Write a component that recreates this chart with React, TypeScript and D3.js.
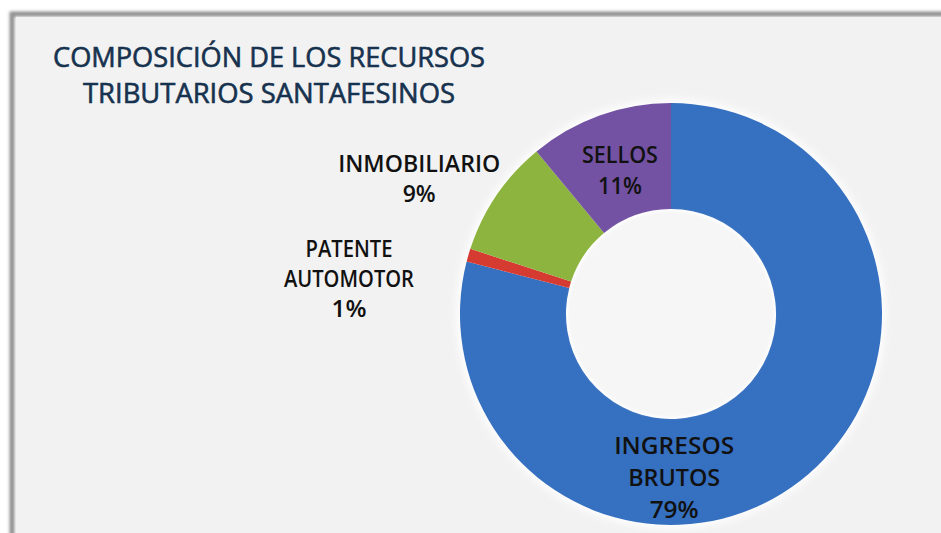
import { useEffect, useRef } from "react";
import * as d3 from "d3";

const categories = ["INGRESOS BRUTOS", "PATENTE AUTOMOTOR", "INMOBILIARIO", "SELLOS"];
const shares = [79, 1, 9, 11];
const pctLabels = ["79%", "1%", "9%", "11%"];
const labelLines = [["INGRESOS", "BRUTOS"], ["PATENTE", "AUTOMOTOR"], ["INMOBILIARIO"], ["SELLOS"]];
const titleLines = ["COMPOSICIÓN DE LOS RECURSOS", "TRIBUTARIOS SANTAFESINOS"];

const colors = ["#3670c0", "#d63b32", "#8db43e", "#7351a3"];

const W = 941,
  H = 533;

const App = () => {
  const ref = useRef<SVGSVGElement>(null);

  useEffect(() => {
    const svg = d3.select(ref.current);
    svg.selectAll("*").remove();

    const defs = svg.append("defs");
    defs
      .append("filter")
      .attr("id", "soft")
      .attr("x", "-20%")
      .attr("y", "-20%")
      .attr("width", "140%")
      .attr("height", "140%")
      .append("feGaussianBlur")
      .attr("stdDeviation", 1.5);
    defs
      .append("filter")
      .attr("id", "glow")
      .attr("x", "-20%")
      .attr("y", "-20%")
      .attr("width", "140%")
      .attr("height", "140%")
      .append("feGaussianBlur")
      .attr("stdDeviation", 4);

    // page + chart frame
    svg.append("rect").attr("width", W).attr("height", H).attr("fill", "#ffffff");
    svg
      .append("rect")
      .attr("x", 12)
      .attr("y", 14)
      .attr("width", W + 20)
      .attr("height", H + 20)
      .attr("fill", "none")
      .attr("stroke", "#8f8f8f")
      .attr("stroke-width", 5)
      .attr("filter", "url(#soft)");
    svg
      .append("rect")
      .attr("x", 16)
      .attr("y", 17)
      .attr("width", W)
      .attr("height", H)
      .attr("fill", "#f2f2f2");

    // title
    const title = svg
      .append("g")
      .attr("font-family", "'Open Sans', sans-serif")
      .attr("font-size", 27)
      .attr("fill", "#17324f")
      .attr("stroke", "#17324f")
      .attr("stroke-width", 0.6)
      .attr("text-anchor", "middle");
    const titleWidths = [432, 372];
    titleLines.forEach((t, i) => {
      title
        .append("text")
        .attr("x", 269)
        .attr("y", 67 + i * 36)
        .attr("textLength", titleWidths[i])
        .attr("lengthAdjust", "spacingAndGlyphs")
        .text(t);
    });

    // donut
    const cx = 671,
      cy = 314,
      outerR = 211,
      innerR = 105;

    const pie = d3.pie<number>().sort(null).value((d) => d);
    const arcs = pie(shares);
    const arc = d3.arc<d3.PieArcDatum<number>>().innerRadius(innerR).outerRadius(outerR);

    const g = svg.append("g").attr("transform", `translate(${cx},${cy})`);

    g.append("circle")
      .attr("r", outerR + 3)
      .attr("fill", "#ffffff")
      .attr("filter", "url(#glow)");

    g.selectAll("path.slice")
      .data(arcs)
      .join("path")
      .attr("class", "slice")
      .attr("d", arc)
      .attr("fill", (_, i) => colors[i]);

    g.append("circle")
      .attr("r", innerR - 2)
      .attr("fill", "#f6f6f6")
      .attr("filter", "url(#soft)");

    // labels: polar anchors (degrees clockwise from top, radius)
    const labelAnchors = [
      [178.9, 163.5],
      [276.3, 324],
      [298.3, 286],
      [340.5, 153],
    ];
    const lineGaps = [32, 30, 30, 31];
    const labelWidths = [
      [120, 92, 49],
      [87, 130, 35],
      [162, 33],
      [76, 44],
    ];
    const lg = g
      .append("g")
      .attr("font-family", "'Open Sans', sans-serif")
      .attr("font-weight", 600)
      .attr("font-size", 24)
      .attr("fill", "#111111")
      .attr("text-anchor", "middle");

    arcs.forEach((a, i) => {
      const [deg, r] = labelAnchors[i];
      const rad = (deg * Math.PI) / 180;
      const x = r * Math.sin(rad);
      const y = -r * Math.cos(rad);
      const lines = [...labelLines[i], pctLabels[i]];
      const lh = lineGaps[i];
      const top = y - ((lines.length - 1) * lh) / 2 + 8.5;
      lines.forEach((t, j) => {
        lg.append("text")
          .attr("x", x)
          .attr("y", top + j * lh)
          .attr("textLength", labelWidths[i][j])
          .attr("lengthAdjust", "spacingAndGlyphs")
          .text(t);
      });
    });
  }, []);

  return (
    <svg
      ref={ref}
      width={W}
      height={H}
      style={{ position: "absolute", left: 0, top: 0, display: "block" }}
    />
  );
};

export default App;
